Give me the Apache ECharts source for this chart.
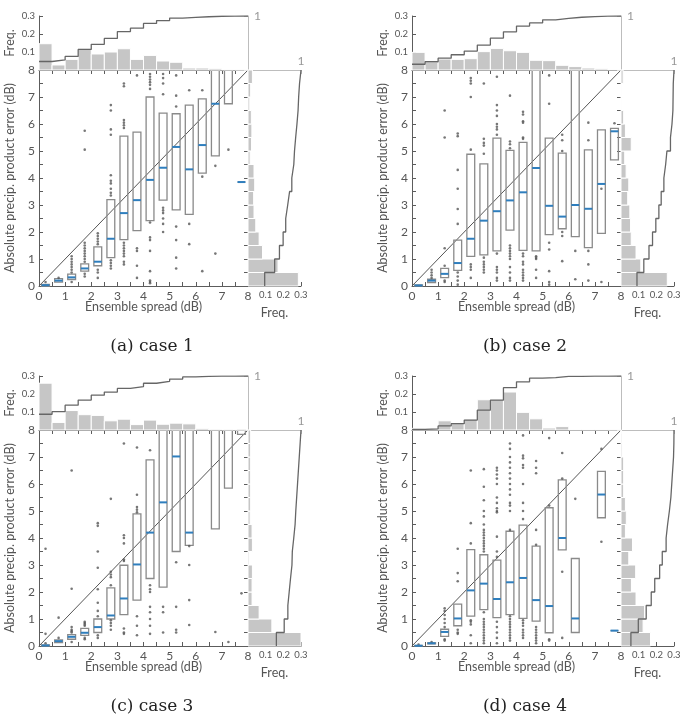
<!DOCTYPE html>
<html lang="en">
<head>
<meta charset="UTF-8">
<title>Ensemble spread vs absolute precip. product error</title>
<script src="https://cdn.jsdelivr.net/npm/echarts@6/dist/echarts.min.js"></script>
<style>
  * { margin: 0; padding: 0; }
  html, body { width: 100%; height: 100%; background: #fff; }
  #chart { width: 684px; height: 723px; }
</style>
</head>
<body>
<div id="chart"></div>
<script>
  // 0.5 dB bins, used on both axes
  var binCenters = [0.25, 0.75, 1.25, 1.75, 2.25, 2.75, 3.25, 3.75, 4.25, 4.75, 5.25, 5.75, 6.25, 6.75, 7.25, 7.75];
  var binEdges = [0, 0.5, 1, 1.5, 2, 2.5, 3, 3.5, 4, 4.5, 5, 5.5, 6, 6.5, 7, 7.5, 8];
  var diagonal = [0, 8];
  var captions = ['(a) case 1', '(b) case 2', '(c) case 3', '(d) case 4'];

  // ---- case 1 ----
  var case1Q1 = [0.0, 0.14, 0.24, 0.55, 0.75, 1.05, 1.72, 2.05, 2.42, 3.18, 2.82, 2.65, 4.18, 4.82, 6.75, 3.85];
  var case1Med = [0.03, 0.2, 0.32, 0.65, 0.9, 1.75, 2.7, 3.18, 3.93, 4.38, 5.15, 4.32, 5.22, 6.75, 8.5, 3.85];
  var case1Q3 = [0.06, 0.27, 0.44, 0.82, 1.45, 3.2, 5.55, 5.7, 7.0, 6.4, 6.38, 6.7, 6.93, 8.8, 9.0, 3.85];
  var case1Outliers = [
    [0.15], [0.3], [0.5, 0.6, 0.7, 0.8, 0.9, 1.0, 1.1, 0.15],
    [5.75, 5.05, 1.6, 1.5, 1.4, 1.3, 1.2, 1.1, 1.0, 0.9, 0.45, 0.35],
    [1.95, 1.85, 1.75, 1.65, 1.55, 0.6, 0.5, 0.3],
    [6.7, 6.5, 5.8, 5.6, 4.1, 3.9, 3.8, 3.6, 3.45, 3.35, 0.95, 0.85, 0.75, 0.65],
    [7.5, 7.4, 6.15, 6.05, 5.95, 5.85, 1.6, 1.5, 1.4, 1.3, 1.2, 1.1, 0.9, 0.8],
    [7.8, 1.4, 1.3, 0.75, 0.3],
    [7.85, 7.75, 7.65, 7.55, 7.45, 7.3, 2.35, 1.8, 1.7, 1.3, 0.55, 0.2, 0.15, 0.1],
    [7.85, 7.7, 7.5, 7.1, 2.9, 2.8, 2.7, 2.5, 2.3, 2.0],
    [7.8, 7.05, 6.65, 2.2, 1.7, 1.05, 0.65],
    [7.25, 2.3, 1.55], [7.25, 4.05, 0.55], [4.45, 1.2], [5.05], []
  ];
  var case1TopFreq = [0.146, 0.028, 0.059, 0.12, 0.089, 0.1, 0.118, 0.059, 0.081, 0.05, 0.043, 0.011, 0.011, 0.009, 0.003, 0.001];
  var case1RightFreq = [0.285, 0.17, 0.082, 0.063, 0.044, 0.034, 0.032, 0.038, 0.034, 0.012, 0.02, 0.022, 0.019, 0.01, 0.015, 0.025];

  // ---- case 2 ----
  var case2Q1 = [0.0, 0.13, 0.31, 0.58, 1.1, 1.15, 1.3, 2.07, 1.32, 1.3, 1.9, 2.12, 1.83, 1.42, 1.95, 4.67];
  var case2Med = [0.02, 0.2, 0.45, 0.85, 1.75, 2.42, 2.77, 3.17, 3.47, 4.37, 2.97, 2.57, 3.0, 2.86, 3.78, 5.73];
  var case2Q3 = [0.04, 0.25, 0.65, 1.7, 4.88, 4.52, 5.48, 5.02, 5.32, 8.8, 5.48, 4.92, 8.8, 5.04, 5.78, 5.84];
  var case2Outliers = [
    [], [0.3, 0.4, 0.5, 0.6], [6.5, 5.5, 1.4, 0.75, 0.2, 0.15],
    [5.65, 5.55, 4.3, 3.6, 2.85, 2.3, 0.5, 0.35, 0.2, 0.05],
    [7.7, 7.6, 7.5, 7.0, 5.05, 0.8, 0.7, 0.6, 0.3],
    [7.5, 5.45, 5.3, 5.2, 4.9, 1.05, 0.9, 0.8, 0.7, 0.6, 0.5],
    [7.75, 6.7, 6.5, 6.3, 6.0, 5.9, 5.8, 5.6, 1.2, 0.7, 0.6, 0.5, 0.3, 0.2],
    [7.05, 5.35, 5.25, 5.1, 1.5, 1.4, 1.3, 1.2, 1.1, 1.0, 0.7, 0.5, 0.3, 0.2],
    [6.45, 6.35, 6.1, 6.05, 5.5, 5.45, 1.2, 1.1, 0.9, 0.8, 0.6, 0.5, 0.4, 0.3, 0.2],
    [1.1, 1.05, 1.0, 0.6, 0.3],
    [7.8, 6.75, 1.6, 1.35, 0.55, 0.15, 0.05],
    [5.6, 5.4, 5.0, 2.0, 1.85, 0.92],
    [1.3, 0.25], [6.05, 5.4, 1.3, 0.8, 0.2], [3.6, 0.15], [6.03]
  ];
  var case2TopFreq = [0.098, 0.043, 0.061, 0.059, 0.063, 0.102, 0.12, 0.107, 0.098, 0.054, 0.052, 0.026, 0.019, 0.011, 0.007, 0.003];
  var case2RightFreq = [0.262, 0.112, 0.085, 0.058, 0.054, 0.05, 0.038, 0.044, 0.029, 0.021, 0.058, 0.025, 0.015, 0.003, 0.003, 0.012];

  // ---- case 3 ----
  var case3Q1 = [0.0, 0.13, 0.25, 0.39, 0.5, 1.0, 1.16, 1.7, 2.5, 2.18, 3.5, 3.73, null, 4.34, 5.85, 7.84];
  var case3Med = [0.02, 0.18, 0.34, 0.49, 0.7, 1.13, 1.76, 3.02, 4.2, 5.32, 7.02, 4.2, null, 8.5, 8.7, 8.3];
  var case3Q3 = [0.04, 0.23, 0.42, 0.65, 1.0, 2.15, 2.99, 4.89, 6.89, 8.8, 8.8, 8.8, null, 8.8, 8.8, 8.8];
  var case3Outliers = [
    [3.6, 0.45, 0.1], [1.05, 0.3], [6.5, 2.12, 0.7, 0.6, 0.55, 0.5, 0.15],
    [0.9, 0.85, 0.8, 0.75, 0.3, 0.25],
    [4.55, 4.45, 3.5, 2.9, 2.1, 1.6, 1.3, 1.1, 0.4, 0.3],
    [5.45, 2.75, 2.65, 2.55, 2.25, 0.95, 0.85, 0.75, 0.6],
    [7.5, 4.1, 4.0, 3.8, 3.2, 3.15, 0.65, 0.5, 0.45],
    [7.35, 5.6, 5.15, 5.05, 4.95, 1.1, 0.75, 0.4],
    [7.25, 2.25, 2.1, 2.0, 1.45, 1.25, 1.0, 0.75, 0.45],
    [1.45, 1.25, 0.5], [3.1, 1.45, 0.6, 0.5], [3.7, 3.0, 1.7, 0.78],
    [], [0.52], [0.15], [1.95]
  ];
  var case3TopFreq = [0.26, 0.042, 0.108, 0.085, 0.081, 0.051, 0.06, 0.03, 0.055, 0.032, 0.038, 0.034, 0.009, 0.004, 0.002, 0.001];
  var case3RightFreq = [0.49, 0.135, 0.063, 0.023, 0.023, 0.025, 0.006, 0.025, 0.023, 0.012, 0.015, 0.015, 0.015, 0.015, 0.015, 0.015];

  // ---- case 4 ----
  var case4Q1 = [0.0, 0.08, 0.36, 0.75, 1.11, 1.35, 1.05, 1.16, 1.02, 0.92, 0.49, 3.56, 0.5, null, 4.75, 0.57];
  var case4Med = [0.01, 0.1, 0.52, 1.02, 2.06, 2.31, 1.74, 2.36, 2.52, 1.7, 1.48, 4.0, 1.02, null, 5.61, 0.57];
  var case4Q3 = [0.02, 0.12, 0.62, 1.55, 3.57, 3.38, 3.18, 4.25, 4.48, 3.7, 5.12, 6.15, 3.24, null, 6.47, 0.57];
  var case4Outliers = [
    [0.05], [0.15], [1.4, 1.3, 1.15, 1.0, 0.85, 0.7, 0.25, 0.2],
    [3.6, 2.7, 2.4, 0.6, 0.5, 0.45],
    [6.5, 4.55, 3.8, 0.95, 0.9, 0.8, 0.4, 0.1],
    [6.55, 5.9, 5.4, 5.0, 4.8, 4.5, 4.3, 4.2, 4.1, 4.0, 3.9, 3.8, 3.7, 3.6, 3.5, 1.25, 1.0, 0.9, 0.8, 0.7, 0.6, 0.5, 0.4, 0.3, 0.2, 0.1],
    [6.6, 6.5, 6.35, 6.2, 6.0, 5.5, 5.3, 5.1, 5.0, 4.95, 4.05, 3.5, 3.3, 0.9, 0.7, 0.5, 0.3, 0.1],
    [7.5, 7.3, 7.0, 6.8, 6.6, 6.4, 6.2, 6.0, 5.8, 5.6, 5.3, 5.2, 5.0, 4.3, 1.1, 1.0, 0.9, 0.8, 0.7, 0.6, 0.5, 0.4, 0.3, 0.2],
    [7.8, 7.05, 6.95, 6.7, 6.6, 6.0, 5.3, 5.0, 4.7, 0.95, 0.85, 0.75, 0.6, 0.5, 0.4, 0.3],
    [6.85, 6.6, 6.4, 4.3, 3.75, 0.7, 0.6, 0.5, 0.4, 0.3, 0.2, 0.1],
    [7.7, 5.2, 0.25, 0.2], [7.15, 6.2, 2.75, 0.3], [5.45], [], [7.3, 3.86], []
  ];
  var case4TopFreq = [0.009, 0.009, 0.051, 0.038, 0.06, 0.168, 0.17, 0.211, 0.098, 0.062, 0.011, 0.019, 0.002, 0.002, 0.002, 0.001];
  var case4RightFreq = [0.167, 0.125, 0.133, 0.085, 0.059, 0.083, 0.044, 0.065, 0.025, 0.03, 0.025, 0.015, 0.015, 0.015, 0.006, 0.002];

  var cases = [
    { q1: case1Q1, med: case1Med, q3: case1Q3, out: case1Outliers, top: case1TopFreq, right: case1RightFreq },
    { q1: case2Q1, med: case2Med, q3: case2Q3, out: case2Outliers, top: case2TopFreq, right: case2RightFreq },
    { q1: case3Q1, med: case3Med, q3: case3Q3, out: case3Outliers, top: case3TopFreq, right: case3RightFreq },
    { q1: case4Q1, med: case4Med, q3: case4Q3, out: case4Outliers, top: case4TopFreq, right: case4RightFreq }
  ];

  // panel offsets (px)
  var offsets = [[0, 0], [373, 0], [0, 360], [373, 360]];

  var font = 'Lato, sans-serif';
  var axisGray = '#5c5c5c';
  var lightGray = '#bdbdbd';
  var textGray = '#555';
  var boxHalf = 0.15;

  function intOnly(v) {
    return Math.abs(v - Math.round(v)) < 1e-6 ? String(Math.round(v)) : '';
  }
  function freqLabel(v) {
    return v < 1e-6 ? '' : v.toFixed(1);
  }
  function oneOnly(v) {
    return v > 0.999 ? '1' : '';
  }
  function clipTo(params, r) {
    var cs = params.coordSys;
    return echarts.graphic.clipRectByRect(r, { x: cs.x, y: cs.y, width: cs.width, height: cs.height });
  }

  function renderBox(params, api) {
    var x = api.value(0);
    var a = api.coord([x - boxHalf, api.value(2)]);
    var b = api.coord([x + boxHalf, api.value(1)]);
    var r = clipTo(params, { x: a[0], y: a[1], width: b[0] - a[0], height: b[1] - a[1] });
    return r && { type: 'rect', shape: r, style: { fill: 'none', stroke: '#8a8a8a', lineWidth: 1.3 } };
  }
  function renderMedian(params, api) {
    var m = api.value(1);
    if (m > 8) return null;
    var x = api.value(0);
    var a = api.coord([x - boxHalf, m]);
    var b = api.coord([x + boxHalf, m]);
    return { type: 'line', shape: { x1: a[0], y1: a[1], x2: b[0], y2: b[1] },
      style: { stroke: '#2f7ebd', lineWidth: 2 } };
  }
  function renderTopBar(params, api) {
    var a = api.coord([api.value(0), api.value(2)]);
    var b = api.coord([api.value(1), 0]);
    var r = clipTo(params, { x: a[0], y: a[1], width: b[0] - a[0], height: b[1] - a[1] });
    return r && { type: 'rect', shape: r, style: { fill: '#c6c6c6', stroke: '#fff', lineWidth: 1 } };
  }
  function renderRightBar(params, api) {
    var a = api.coord([0, api.value(1)]);
    var b = api.coord([api.value(2), api.value(0)]);
    var r = clipTo(params, { x: a[0], y: a[1], width: b[0] - a[0], height: b[1] - a[1] });
    return r && { type: 'rect', shape: r, style: { fill: '#c6c6c6', stroke: '#fff', lineWidth: 1 } };
  }

  function cumulative(freq) {
    var total = freq.reduce(function (s, f) { return s + f; }, 0);
    var c = 0;
    return freq.map(function (f) { c += f; return c / total; });
  }

  var grids = [], xAxes = [], yAxes = [], series = [], graphics = [];

  var nameStyle = { color: textGray, fontFamily: font, fontSize: 12.5 };
  var plainLine = { onZero: false, lineStyle: { color: axisGray, width: 1 } };
  var inTick = { inside: true, length: 4, lineStyle: { color: axisGray } };

  cases.forEach(function (c, i) {
    var ox = offsets[i][0], oy = offsets[i][1];
    var g = grids.length;
    grids.push({ left: 39 + ox, top: 70 + oy, width: 209, height: 216 });  // main
    grids.push({ left: 39 + ox, top: 16 + oy, width: 209, height: 54 });   // top histogram
    grids.push({ left: 248 + ox, top: 70 + oy, width: 53, height: 216 });  // right histogram

    var xMain = xAxes.length;
    xAxes.push({
      gridIndex: g, type: 'value', min: 0, max: 8, interval: 0.5, position: 'bottom',
      axisLine: plainLine, axisTick: inTick, splitLine: { show: false },
      axisLabel: { margin: 4, fontSize: 12, color: textGray, fontFamily: font, formatter: intOnly },
      name: 'Ensemble spread (dB)', nameLocation: 'middle', nameGap: 14, nameMoveOverlap: false,
      nameTextStyle: nameStyle
    });
    xAxes.push({
      gridIndex: g, type: 'value', min: 0, max: 8, interval: 0.5, position: 'top',
      axisLine: plainLine, axisTick: inTick, axisLabel: { show: false }, splitLine: { show: false }
    });
    var xTop = xAxes.length;
    xAxes.push({ gridIndex: g + 1, type: 'value', min: 0, max: 8, show: false });
    var xRight = xAxes.length;
    xAxes.push({
      gridIndex: g + 2, type: 'value', min: 0, max: 0.3, interval: 0.1, position: 'bottom',
      axisLine: plainLine, axisTick: inTick, splitLine: { show: false },
      axisLabel: { margin: 4, fontSize: 9.5, color: textGray, fontFamily: font, formatter: freqLabel },
      name: 'Freq.', nameLocation: 'middle', nameGap: 20, nameMoveOverlap: false, nameTextStyle: nameStyle
    });
    var xRightCum = xAxes.length;
    xAxes.push({
      gridIndex: g + 2, type: 'value', min: 0, max: 1, interval: 1, position: 'top',
      axisLine: { onZero: false, lineStyle: { color: lightGray, width: 1 } },
      axisTick: { inside: true, length: 4, lineStyle: { color: lightGray } }, splitLine: { show: false },
      axisLabel: { margin: 3, fontSize: 12, color: '#999', fontFamily: font, formatter: oneOnly }
    });

    var yMain = yAxes.length;
    yAxes.push({
      gridIndex: g, type: 'value', min: 0, max: 8, interval: 0.5, position: 'left',
      axisLine: plainLine, axisTick: inTick, splitLine: { show: false },
      axisLabel: { margin: 4, fontSize: 12, color: textGray, fontFamily: font, formatter: intOnly },
      name: 'Absolute precip. product error (dB)', nameLocation: 'middle', nameGap: 23,
      nameMoveOverlap: false, nameTextStyle: nameStyle
    });
    yAxes.push({
      gridIndex: g, type: 'value', min: 0, max: 8, interval: 0.5, position: 'right',
      axisLine: plainLine, axisTick: inTick, axisLabel: { show: false }, splitLine: { show: false }
    });
    var yTop = yAxes.length;
    yAxes.push({
      gridIndex: g + 1, type: 'value', min: 0, max: 0.3, interval: 0.1, position: 'left',
      axisLine: plainLine, axisTick: inTick, splitLine: { show: false },
      axisLabel: { margin: 4, fontSize: 9.5, color: textGray, fontFamily: font, formatter: freqLabel },
      name: 'Freq.', nameLocation: 'middle', nameGap: 23, nameMoveOverlap: false, nameTextStyle: nameStyle
    });
    var yTopCum = yAxes.length;
    yAxes.push({
      gridIndex: g + 1, type: 'value', min: 0, max: 1, interval: 1, position: 'right',
      axisLine: { onZero: false, lineStyle: { color: lightGray, width: 1 } },
      axisTick: { inside: true, length: 4, lineStyle: { color: lightGray } }, splitLine: { show: false },
      axisLabel: { margin: 6, fontSize: 12, color: '#999', fontFamily: font, formatter: oneOnly }
    });
    var yRight = yAxes.length;
    yAxes.push({ gridIndex: g + 2, type: 'value', min: 0, max: 8, show: false });

    // main panel: y = x reference, boxes, outliers, medians
    series.push({
      type: 'line', xAxisIndex: xMain, yAxisIndex: yMain, silent: true, showSymbol: false, z: 1,
      data: [[diagonal[0], diagonal[0]], [diagonal[1], diagonal[1]]],
      lineStyle: { color: '#555', width: 1 }
    });
    var boxData = [], medData = [], outData = [];
    binCenters.forEach(function (x, k) {
      if (c.q1[k] !== null) {
        boxData.push([x, c.q1[k], c.q3[k]]);
        medData.push([x, c.med[k]]);
      }
      c.out[k].forEach(function (v) { outData.push([x, v]); });
    });
    series.push({ type: 'custom', xAxisIndex: xMain, yAxisIndex: yMain, renderItem: renderBox, data: boxData, z: 2 });
    series.push({
      type: 'scatter', xAxisIndex: xMain, yAxisIndex: yMain, data: outData, symbolSize: 2.6,
      itemStyle: { color: '#555' }, z: 3, silent: true
    });
    series.push({ type: 'custom', xAxisIndex: xMain, yAxisIndex: yMain, renderItem: renderMedian, data: medData, z: 4 });

    // top histogram + cumulative
    var topBars = c.top.map(function (f, k) { return [binEdges[k], binEdges[k + 1], f]; });
    series.push({ type: 'custom', xAxisIndex: xTop, yAxisIndex: yTop, renderItem: renderTopBar, data: topBars, z: 2 });
    var topCum = [];
    cumulative(c.top).forEach(function (v, k) { topCum.push([binEdges[k], v], [binEdges[k + 1], v]); });
    series.push({
      type: 'line', xAxisIndex: xTop, yAxisIndex: yTopCum, data: topCum, showSymbol: false, silent: true, z: 3,
      lineStyle: { color: '#666', width: 1.3 }
    });

    // right histogram + cumulative
    var rightBars = c.right.map(function (f, k) { return [binEdges[k], binEdges[k + 1], f]; });
    series.push({ type: 'custom', xAxisIndex: xRight, yAxisIndex: yRight, renderItem: renderRightBar, data: rightBars, z: 2 });
    var rightCum = [];
    cumulative(c.right).forEach(function (v, k) { rightCum.push([v, binEdges[k]], [v, binEdges[k + 1]]); });
    series.push({
      type: 'line', xAxisIndex: xRightCum, yAxisIndex: yRight, data: rightCum, showSymbol: false, silent: true, z: 3,
      lineStyle: { color: '#666', width: 1.3 }
    });

    graphics.push({
      type: 'text', x: 152 + ox, y: 347 + oy,
      style: { text: captions[i], font: '17px "DejaVu Serif", serif', fill: '#222', align: 'center', verticalAlign: 'middle' }
    });
  });

  var chart = echarts.init(document.getElementById('chart'));
  chart.setOption({
    animation: false,
    backgroundColor: '#fff',
    grid: grids,
    xAxis: xAxes,
    yAxis: yAxes,
    series: series,
    graphic: graphics
  });
</script>
</body>
</html>
